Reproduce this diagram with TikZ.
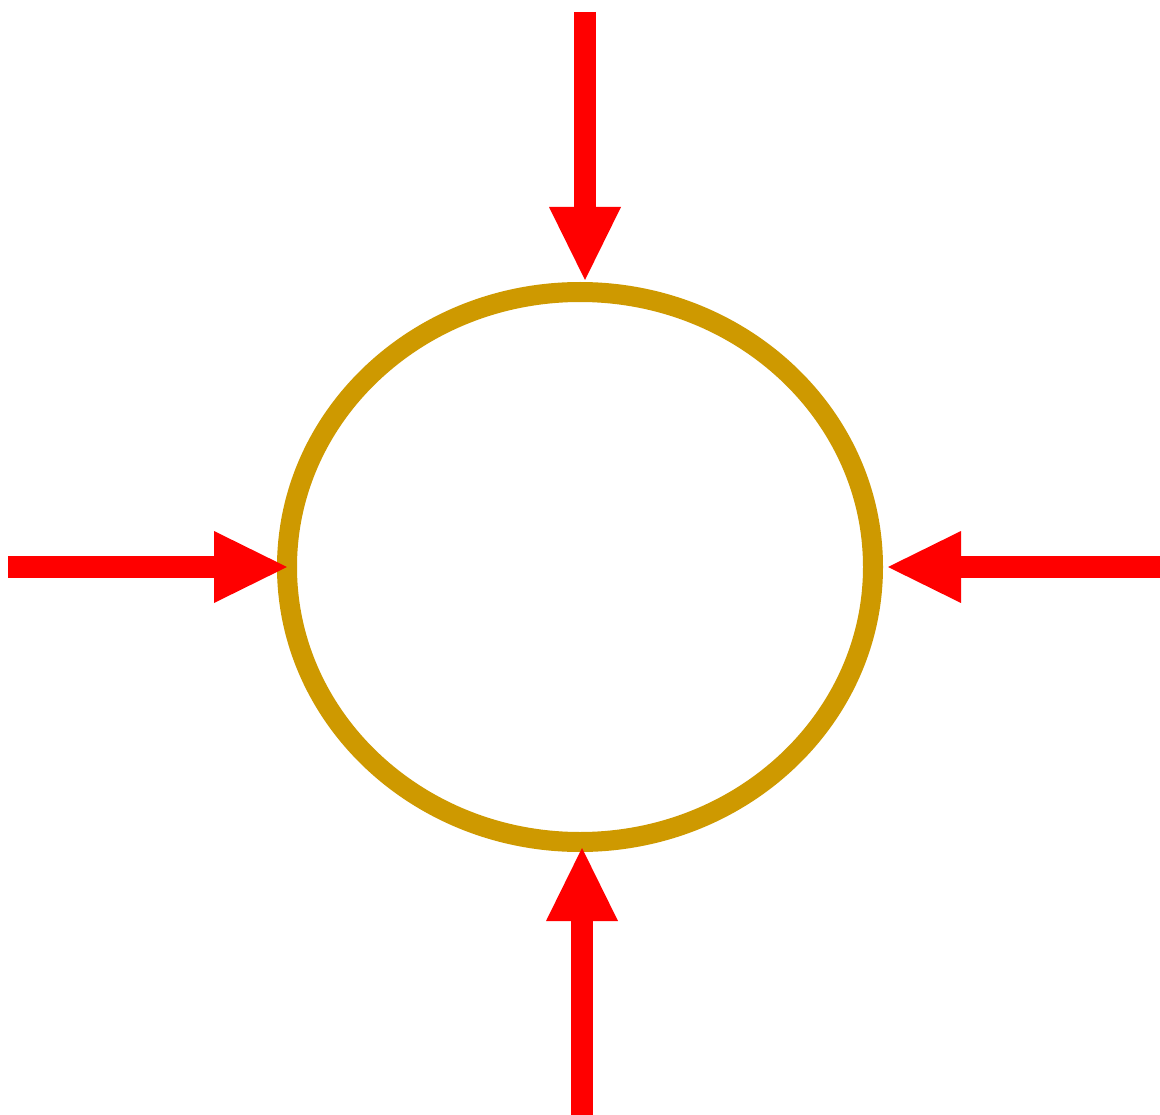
\documentclass[tikz,border=0pt]{standalone}
\usetikzlibrary{shapes.geometric,arrows.meta}
\definecolor{ringgold}{RGB}{206,153,0}
\definecolor{arrred}{RGB}{255,0,0}
\tikzset{
  ring/.style={ellipse, draw=ringgold, line width=20pt, inner sep=0pt,
    minimum width=586pt, minimum height=550pt},
  push/.style={draw=arrred, line width=22pt,
    -{Triangle[length=73pt,width=72pt,line width=0pt,fill=arrred]}}
}
\begin{document}
\begin{tikzpicture}[x=1pt,y=-1pt]
\fill[white] (0,0) rectangle (1160,1115);
\useasboundingbox (0,0) rectangle (1160,1115);
\node[ring] (c) at (580,567) {};
\coordinate (t) at (585,12);
\coordinate (l) at (8,567);
\coordinate (r) at (1160,567);
\coordinate (b) at (582,1115);
\draw[push, shorten >=2pt] (t) -- (t |- c.north);
\draw[push, shorten >=-10pt] (l) -- (l -| c.west);
\draw[push, shorten >=5pt] (r) -- (r -| c.east);
\draw[push, shorten >=-4pt] (b) -- (b |- c.south);
\end{tikzpicture}
\end{document}
